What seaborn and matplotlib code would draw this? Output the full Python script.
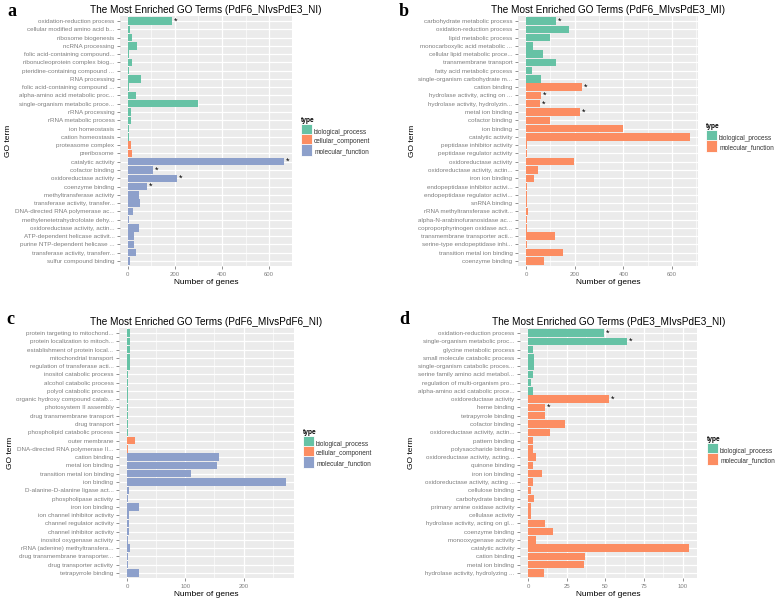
import matplotlib
matplotlib.use("Agg")
import matplotlib.pyplot as plt
from matplotlib.patches import Patch, Rectangle
from matplotlib.legend_handler import HandlerPatch
import seaborn as sns
import pandas as pd

BP, CC, MF = "biological_process", "cellular_component", "molecular_function"

# panel a: PdF6_NI vs PdE3_NI
a_terms = [
    "oxidation-reduction process", "cellular modified amino acid b...", "ribosome biogenesis",
    "ncRNA processing", "folic acid-containing compound...", "ribonucleoprotein complex biog...",
    "pteridine-containing compound ...", "RNA processing", "folic acid-containing compound ...",
    "alpha-amino acid metabolic proc...", "single-organism metabolic proce...", "rRNA processing",
    "rRNA metabolic process", "ion homeostasis", "cation homeostasis",
    "proteasome complex", "preribosome",
    "catalytic activity", "cofactor binding", "oxidoreductase activity", "coenzyme binding",
    "methyltransferase activity", "transferase activity, transfer...", "DNA-directed RNA polymerase ac...",
    "methylenetetrahydrofolate dehy...", "oxidoreductase activity, actin...", "ATP-dependent helicase activit...",
    "purine NTP-dependent helicase ...", "transferase activity, transferr...", "sulfur compound binding",
]
a_genes = [187, 11, 18, 41, 5, 18, 5, 58, 5, 33, 298, 13, 13, 7, 7,
           13, 18,
           664, 106, 208, 81, 47, 51, 21, 6, 47, 26, 26, 34, 8]
a_types = [BP] * 15 + [CC] * 2 + [MF] * 13
a_starred = ["oxidation-reduction process", "catalytic activity", "cofactor binding",
             "oxidoreductase activity", "coenzyme binding"]

# panel b: PdF6_MI vs PdE3_MI
b_terms = [
    "carbohydrate metabolic process", "oxidation-reduction process", "lipid metabolic process",
    "monocarboxylic acid metabolic ...", "cellular lipid metabolic proce...", "transmembrane transport",
    "fatty acid metabolic process", "single-organism carbohydrate m...",
    "cation binding", "hydrolase activity, acting on ...", "hydrolase activity, hydrolyzin...",
    "metal ion binding", "cofactor binding", "ion binding", "catalytic activity",
    "peptidase inhibitor activity", "peptidase regulator activity", "oxidoreductase activity",
    "oxidoreductase activity, actin...", "iron ion binding", "endopeptidase inhibitor activi...",
    "endopeptidase regulator activi...", "snRNA binding", "rRNA methyltransferase activit...",
    "alpha-N-arabinofuranosidase ac...", "coproporphyrinogen oxidase act...",
    "transmembrane transporter acti...", "serine-type endopeptidase inhi...",
    "transition metal ion binding", "coenzyme binding",
]
b_genes = [123, 178, 97, 26, 70, 123, 23, 60,
           230, 59, 56, 221, 98, 397, 673, 5, 5, 198, 49, 31, 5, 5, 3, 8, 3, 2, 119, 4, 152, 72]
b_types = [BP] * 8 + [MF] * 22
b_starred = ["carbohydrate metabolic process", "cation binding", "hydrolase activity, acting on ...",
             "hydrolase activity, hydrolyzin...", "metal ion binding"]

# panel c: PdF6_MI vs PdF6_NI
c_terms = [
    "protein targeting to mitochond...", "protein localization to mitoch...", "establishment of protein local...",
    "mitochondrial transport", "regulation of transferase acti...", "inositol catabolic process",
    "alcohol catabolic process", "polyol catabolic process", "organic hydroxy compound catab...",
    "photosystem II assembly", "drug transmembrane transport", "drug transport",
    "phospholipid catabolic process",
    "outer membrane", "DNA-directed RNA polymerase II...",
    "cation binding", "metal ion binding", "transition metal ion binding", "ion binding",
    "D-alanine-D-alanine ligase act...", "phospholipase activity", "iron ion binding",
    "ion channel inhibitor activity", "channel regulator activity", "channel inhibitor activity",
    "inositol oxygenase activity", "rRNA (adenine) methyltransfera...", "drug transmembrane transporter...",
    "drug transporter activity", "tetrapyrrole binding",
]
c_genes = [5, 5, 5, 5, 5, 1, 1, 1, 1, 1, 2, 2, 1,
           14, 2,
           158, 154, 110, 273, 3, 2, 21, 3, 3, 3, 1, 5, 2, 2, 21]
c_types = [BP] * 13 + [CC] * 2 + [MF] * 15
c_starred = []

# panel d: PdE3_MI vs PdE3_NI
d_terms = [
    "oxidation-reduction process", "single-organism metabolic proc...", "glycine metabolic process",
    "small molecule catabolic process", "single-organism catabolic proces...",
    "serine family amino acid metabol...", "regulation of multi-organism pro...",
    "alpha-amino acid catabolic proce...",
    "oxidoreductase activity", "heme binding", "tetrapyrrole binding", "cofactor binding",
    "oxidoreductase activity, actin...", "pattern binding", "polysaccharide binding",
    "oxidoreductase activity, acting...", "quinone binding", "iron ion binding",
    "oxidoreductase activity, acting ...", "cellulose binding", "carbohydrate binding",
    "primary amine oxidase activity", "cellulase activity", "hydrolase activity, acting on gl...",
    "coenzyme binding", "monooxygenase activity", "catalytic activity", "cation binding",
    "metal ion binding", "hydrolase activity, hydrolyzing ...",
]
d_genes = [49, 64, 3, 4, 4, 3, 2, 3,
           52, 11, 11, 24, 14, 3, 3, 5, 3, 9, 3, 2, 4, 2, 2, 11, 16, 5, 104, 37, 36, 10]
d_types = [BP] * 8 + [MF] * 22
d_starred = ["oxidation-reduction process", "single-organism metabolic proc...",
             "oxidoreductase activity", "heme binding"]

GREY = "#7F7F7F"
FONT = "Liberation Sans"
plt.rcParams["font.family"] = FONT

W, H = 778, 601
fig = plt.figure(figsize=(W / 100, H / 100), dpi=100)


def px_box(left, top, right, bottom):
    return [left / W, 1 - bottom / H, (right - left) / W, (bottom - top) / H]


def full_key(legend, orig_handle, xdescent, ydescent, width, height, fontsize):
    # fill the whole key box, like ggplot legend keys
    return Rectangle((-xdescent, -ydescent), width, height + ydescent)


def draw_panel(box, terms, genes, types, starred, title, step, legend_xy, letter, letter_xy):
    ax = fig.add_axes(px_box(*box))
    df = pd.DataFrame({"term": terms, "genes": genes, "type": types})
    levels = [t for t in [BP, CC, MF] if t in types]
    pal = dict(zip(levels, sns.color_palette("Set2", len(levels))))
    sns.barplot(data=df, x="genes", y="term", hue="type", hue_order=levels, order=terms,
                palette=pal, width=0.9, saturation=1, dodge=False, legend=False, ax=ax)
    for p in ax.patches:
        p.set_edgecolor("none")

    top = max(genes)
    ax.set_xlim(-0.05 * top, 1.05 * top)
    ax.set_ylim(len(terms) - 0.4, -0.6)
    ax.set_facecolor("#EBEBEB")
    for s in ax.spines.values():
        s.set_visible(False)
    ax.set_axisbelow(True)
    ticks = [t for t in range(0, int(top * 1.05) + 1, 1) if t % step == 0]
    ax.set_xticks(ticks)
    ax.set_xticks([t + step / 2 for t in ticks if t + step / 2 < 1.05 * top], minor=True)
    ax.grid(which="major", color="white", lw=0.9)
    ax.grid(which="minor", axis="x", color="white", lw=0.45)
    ax.tick_params(which="major", length=2.5, width=0.6, color=GREY, labelcolor=GREY,
                   pad=1.5, labelsize=4.5)
    ax.tick_params(axis="x", labelsize=4.3, pad=2)
    ax.tick_params(which="minor", length=0)
    ax.set_xlabel("Number of genes", fontsize=6, labelpad=1.5)
    ax.set_ylabel("GO term", fontsize=6, labelpad=2)
    ax.set_title(title, fontsize=7.2, pad=2)

    for term, n in zip(terms, genes):
        if term in starred:
            ax.annotate("*", (n, terms.index(term)), xytext=(1.5, 0), textcoords="offset points",
                        ha="left", va="center", fontsize=6.5, color="black")

    handles = [Patch(facecolor=pal[t], edgecolor="white", lw=0.6, label=t) for t in levels]
    leg = ax.legend(handles=handles, title="type", loc="upper left",
                    bbox_to_anchor=(legend_xy[0] / W, 1 - legend_xy[1] / H),
                    bbox_transform=fig.transFigure, frameon=False, fontsize=4.7,
                    title_fontproperties={"weight": "bold", "size": 4.8, "family": FONT},
                    handlelength=1.7, handleheight=1.85, labelspacing=0.05,
                    handletextpad=0.3, borderpad=0, borderaxespad=0, alignment="left",
                    handler_map={Patch: HandlerPatch(patch_func=full_key)})
    leg._legend_box.sep = 2  # small gap under the "type" title
    for t in leg.get_texts():
        t.set_color("#333333")

    fig.text(letter_xy[0] / W, 1 - letter_xy[1] / H, letter, fontsize=13, fontweight="bold",
             family="Liberation Serif", va="baseline", ha="left")
    return ax


draw_panel((120, 16, 292, 266), a_terms, a_genes, a_types, a_starred,
           "The Most Enriched GO Terms (PdF6_NIvsPdE3_NI)", 200, (301, 117), "a", (7, 16))
draw_panel((518, 16, 698, 266), b_terms, b_genes, b_types, b_starred,
           "The Most Enriched GO Terms (PdF6_MIvsPdE3_MI)", 200, (706, 123), "b", (399, 16))
draw_panel((119, 328, 294, 578), c_terms, c_genes, c_types, c_starred,
           "The Most Enriched GO Terms (PdF6_MIvsPdF6_NI)", 100, (303, 429), "c", (6, 324))
draw_panel((520, 328, 697, 578), d_terms, d_genes, d_types, d_starred,
           "The Most Enriched GO Terms (PdE3_MIvsPdE3_NI)", 25, (707, 436), "d", (399, 324))

fig.savefig("out.png", dpi=100)
